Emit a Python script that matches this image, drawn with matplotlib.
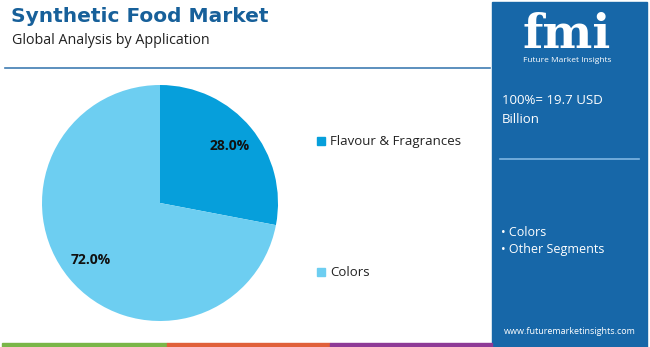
import matplotlib
matplotlib.use("Agg")
import matplotlib.pyplot as plt
from matplotlib.patches import Rectangle

# data
segments = ["Flavour & Fragrances", "Colors"]
shares = [28.0, 72.0]
colors = ["#069FDB", "#6DCEF1"]
total_label = "100%= 19.7 USD\nBillion"
top_segments = ["Colors", "Other Segments"]

W, H = 650, 347
fig = plt.figure(figsize=(W / 100, H / 100), dpi=100)
fig.patch.set_facecolor("white")

def px(x, y):
    # pixel coords (top-left origin) -> figure fraction
    return x / W, 1 - y / H

font = "Open Sans"

# title block
fig.text(*px(11, 17), "Synthetic Food Market", fontsize=14.5, fontweight="bold",
         color="#17609A", family="DejaVu Sans", va="center", ha="left")
fig.text(*px(12, 40), "Global Analysis by Application", fontsize=10.3,
         color="#222222", family=font, va="center", ha="left")
fig.add_artist(plt.Line2D([5 / W, 490 / W], [1 - 68 / H] * 2, color="#3F7DB3", lw=1.2))

# pie
cx, cy, r = 160, 203, 118
ax = fig.add_axes([(cx - r) / W, (H - cy - r) / H, 2 * r / W, 2 * r / H])
wedges, texts, autotexts = ax.pie(shares, colors=colors, startangle=90, counterclock=False,
                                  autopct="%.1f%%", pctdistance=0.76,
                                  wedgeprops=dict(linewidth=0))
for t in autotexts:
    t.set_fontsize(10)
    t.set_fontweight("bold")
    t.set_family(font)
    t.set_color("#111111")
ax.set_xlim(-1, 1)
ax.set_ylim(-1, 1)
ax.set_aspect("equal")
ax.axis("off")

# legend
leg_y = [141, 272]
for name, col, y in zip(segments, colors, leg_y):
    x0, y0 = px(317, y + 4)
    fig.add_artist(Rectangle((x0, y0), 8 / W, 8 / H, color=col, transform=fig.transFigure))
    fig.text(*px(330, y), name, fontsize=9.5, color="#222222", family=font,
             va="center", ha="left")

# right panel
fig.add_artist(Rectangle((492 / W, 0), 155 / W, 1 - 2 / H, color="#1767A8",
                         transform=fig.transFigure, zorder=0))
fig.text(*px(567, 35), "fmi", fontsize=34, fontweight="bold", color="white",
         family="DejaVu Serif", va="center", ha="center")
fig.text(*px(567, 60), "Future Market Insights", fontsize=6, color="white",
         family=font, va="center", ha="center")
fig.text(*px(502, 110), total_label, fontsize=9.5, color="white", family=font,
         va="center", ha="left", linespacing=1.6)
fig.add_artist(plt.Line2D([500 / W, 639 / W], [1 - 159 / H] * 2, color="#7FB6E2", lw=1.2))
for i, s in enumerate(top_segments):
    fig.text(*px(501, 233 + 17 * i), "\u2022 " + s, fontsize=9, color="white",
             family=font, va="center", ha="left")
fig.text(*px(570, 332), "www.futuremarketinsights.com", fontsize=6.5, color="white",
         family=font, va="center", ha="center")

# bottom colour strip
for x0, x1, c in [(2, 167, "#7AB648"), (167, 330, "#E0603A"), (330, 492, "#8E3A96")]:
    fig.add_artist(Rectangle((x0 / W, 0), (x1 - x0) / W, 4 / H, color=c,
                             transform=fig.transFigure))

fig.savefig("out.png", dpi=100)
